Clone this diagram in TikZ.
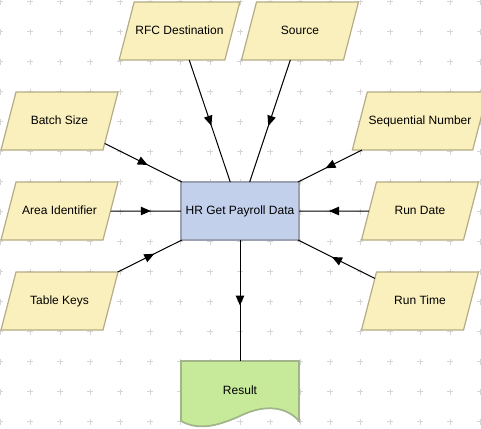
\documentclass[tikz,border=0pt]{standalone}
\usepackage{fontspec}
\setmainfont{Liberation Sans}
\usetikzlibrary{shapes.geometric,decorations.markings}
\definecolor{pfill}{HTML}{FAF0BE}
\definecolor{pline}{HTML}{B5AB85}
\definecolor{bfill}{HTML}{C3D0EC}
\definecolor{bline}{HTML}{9CA1B2}
\definecolor{rfill}{HTML}{C6EA9A}
\definecolor{rline}{HTML}{A2B48A}
\definecolor{gridc}{HTML}{D6D6D6}
\tikzset{
  inbox/.style={trapezium, trapezium left angle=75.5, trapezium right angle=104.5,
    trapezium stretches body, minimum width=87.75pt,
    text height=7pt, text depth=2pt, inner xsep=1pt, inner ysep=17.25pt,
    outer sep=0pt, fill=pfill, draw=pline, line width=0.9pt,
    font=\fontsize{9}{11}\selectfont},
  procbox/.style={rectangle, minimum width=88.5pt, minimum height=43.5pt,
    inner sep=0pt, outer sep=0pt, fill=bfill, draw=bline, line width=1.3pt,
    font=\fontsize{9}{11}\selectfont},
  link/.style={draw=black, line width=0.75pt,
    decoration={markings, mark=at position 0.5 with {\fill[black] (-3.75pt,-3.3pt) -- (3.75pt,0pt) -- (-3.75pt,3.3pt) -- cycle;}},
    postaction={decorate}},
  gridmark/.style={draw=gridc, line width=0.75pt}
}
\begin{document}
\begin{tikzpicture}[x=0.75pt,y=-0.75pt]
\useasboundingbox (0,0) rectangle (481,428);
% background grid
\foreach \gx in {0,30,...,480}{
  \foreach \gy in {1.7,31.7,...,421.7}{
    \draw[gridmark] (\gx-3,\gy) -- (\gx+3,\gy) (\gx,\gy-3) -- (\gx,\gy+3);
  }
}
% nodes
\node[procbox] (hr) at (240,211) {HR Get Payroll Data};
\node[inbox] (rfc) at (179.5,31) {RFC Destination};
\node[inbox] (src) at (300,31) {Source};
\node[inbox] (batch) at (59.5,121) {Batch Size};
\node[inbox] (seq) at (420,121) {Sequential Number};
\node[inbox] (area) at (59.5,211) {Area Identifier};
\node[inbox] (rdate) at (420,211) {Run Date};
\node[inbox] (tkeys) at (59.5,301) {Table Keys};
\node[inbox] (rtime) at (420,301) {Run Time};
% result document shape
\coordinate (restop) at (240,361);
\filldraw[fill=rfill, draw=rline, line width=1.3pt]
  (181,361) -- (299,361) -- (299,421)
  .. controls (285,405) and (262,405) .. (240,416)
  .. controls (222,424) and (200,432) .. (181,421) -- cycle;
\node[font=\fontsize{9}{11}\selectfont] (res) at (240,390) {Result};
% connectors
\draw[link] (rfc) -- (hr);
\draw[link] (src) -- (hr);
\draw[link] (batch) -- (hr);
\draw[link] (seq) -- (hr);
\draw[link] (area) -- (hr);
\draw[link] (rdate) -- (hr);
\draw[link] (tkeys) -- (hr);
\draw[link] (rtime) -- (hr);
\draw[link] (hr.south) -- (restop);
\end{tikzpicture}
\end{document}
